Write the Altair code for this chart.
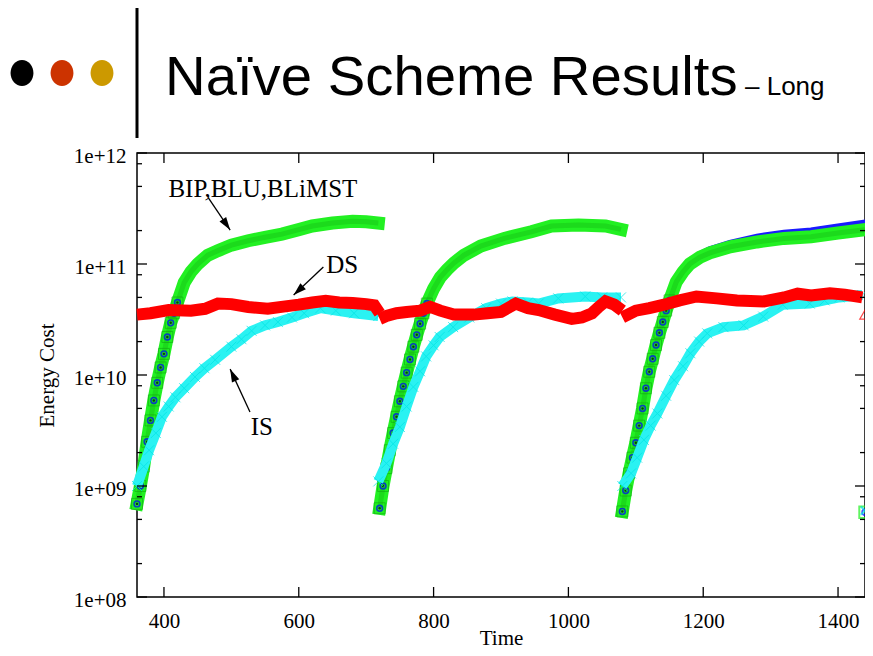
import altair as alt
import pandas as pd

# ---------------- values ----------------
BIP_T1 = [360, 365, 370, 375, 380, 385, 390, 395, 400, 405, 410, 415, 420, 430, 440, 450, 465, 480, 500, 525, 550, 575, 600, 620, 650, 680, 700, 718]
BIP_V1 = [6.9e8, 1.0e9, 1.5e9, 2.5e9, 3.9e9, 5.9e9, 8.5e9, 1.17e10, 1.55e10, 2.2e10, 2.95e10, 3.6e10, 4.5e10, 6.8e10, 8.5e10, 1.0e11, 1.2e11, 1.32e11, 1.48e11, 1.62e11, 1.74e11, 1.86e11, 2.04e11, 2.2e11, 2.34e11, 2.43e11, 2.4e11, 2.34e11]
BIP_T2 = [720, 725, 730, 735, 740, 745, 750, 755, 760, 765, 770, 775, 780, 785, 790, 800, 810, 820, 830, 845, 870, 905, 945, 975, 1015, 1055, 1078]
BIP_V2 = [6.3e8, 1.0e9, 1.45e9, 2.1e9, 3.0e9, 4.2e9, 5.8e9, 7.9e9, 1.05e10, 1.38e10, 1.8e10, 2.3e10, 2.9e10, 3.6e10, 4.4e10, 6.0e10, 7.6e10, 8.9e10, 1.02e11, 1.2e11, 1.45e11, 1.7e11, 1.95e11, 2.2e11, 2.25e11, 2.2e11, 2.05e11]
BIP_T3 = [1080, 1085, 1090, 1095, 1100, 1105, 1110, 1115, 1120, 1125, 1130, 1135, 1140, 1145, 1150, 1160, 1170, 1180, 1195, 1210, 1240, 1280, 1320, 1360, 1400, 1440]
BIP_V3 = [5.9e8, 9.1e8, 1.3e9, 1.8e9, 2.45e9, 3.5e9, 5.0e9, 7.6e9, 1.07e10, 1.4e10, 1.86e10, 2.4e10, 3.0e10, 3.8e10, 4.7e10, 6.9e10, 8.5e10, 1.0e11, 1.15e11, 1.26e11, 1.43e11, 1.58e11, 1.7e11, 1.76e11, 1.9e11, 2.04e11]
BLU_V3 = [5.9e8, 9.1e8, 1.3e9, 1.8e9, 2.45e9, 3.5e9, 5.0e9, 7.6e9, 1.07e10, 1.4e10, 1.86e10, 2.4e10, 3.0e10, 3.8e10, 4.7e10, 6.9e10, 8.5e10, 1.02e11, 1.2e11, 1.33e11, 1.52e11, 1.73e11, 1.87e11, 1.96e11, 2.13e11, 2.32e11]

DS_T1 = [360, 380, 407, 440, 461, 480, 500, 525, 554, 580, 600, 620, 640, 660, 680, 700, 712, 720]
DS_V1 = [3.5e10, 3.6e10, 3.85e10, 3.8e10, 3.95e10, 4.4e10, 4.35e10, 4.1e10, 3.95e10, 4.15e10, 4.3e10, 4.5e10, 4.65e10, 4.5e10, 4.45e10, 4.35e10, 4.25e10, 3.6e10]
DS_T2 = [720, 730, 745, 760, 780, 795, 810, 830, 860, 880, 900, 922, 940, 956, 980, 1005, 1020, 1035, 1045, 1055, 1068, 1080]
DS_V2 = [3.2e10, 3.4e10, 3.6e10, 3.7e10, 3.8e10, 4.1e10, 3.8e10, 3.5e10, 3.5e10, 3.6e10, 3.7e10, 4.4e10, 4.0e10, 3.85e10, 3.5e10, 3.2e10, 3.3e10, 3.6e10, 4.1e10, 4.6e10, 4.3e10, 3.8e10]
DS_T3 = [1080, 1100, 1120, 1142, 1165, 1190, 1220, 1250, 1290, 1320, 1340, 1360, 1388, 1410, 1436]
DS_V3 = [3.3e10, 3.8e10, 4.0e10, 4.3e10, 4.7e10, 5.1e10, 4.9e10, 4.7e10, 4.6e10, 5.0e10, 5.4e10, 5.2e10, 5.45e10, 5.3e10, 5.0e10]

IS_T1 = [360, 370, 378, 388, 397, 407, 417, 430, 446, 460, 476, 500, 515, 530, 550, 569, 590, 608, 632, 655, 682, 718]
IS_V1 = [1.0e9, 1.5e9, 2.1e9, 3.0e9, 4.2e9, 5.2e9, 6.3e9, 7.6e9, 9.6e9, 1.15e10, 1.37e10, 1.8e10, 2.1e10, 2.5e10, 2.8e10, 3.0e10, 3.3e10, 3.6e10, 4.0e10, 3.8e10, 3.6e10, 3.4e10]
IS_T2 = [718, 730, 740, 750, 760, 770, 780, 789, 800, 809, 829, 853, 878, 900, 917, 940, 956, 985, 1025, 1050, 1078]
IS_V2 = [1.1e9, 1.6e9, 2.4e9, 3.4e9, 5.2e9, 7.8e9, 1.08e10, 1.47e10, 1.85e10, 2.2e10, 2.7e10, 3.3e10, 4.0e10, 4.4e10, 4.6e10, 4.5e10, 4.4e10, 4.9e10, 5.1e10, 5.0e10, 5.0e10]
IS_T3 = [1080, 1093, 1102, 1112, 1122, 1132, 1145, 1157, 1170, 1181, 1194, 1206, 1230, 1260, 1289, 1318, 1358, 1380, 1402, 1436]
IS_V3 = [1.0e9, 1.3e9, 1.8e9, 2.6e9, 3.5e9, 4.5e9, 6.5e9, 9.0e9, 1.2e10, 1.57e10, 2.0e10, 2.37e10, 2.7e10, 2.8e10, 3.36e10, 4.3e10, 4.4e10, 4.7e10, 5.0e10, 5.25e10]

# first points of the next period, at the right edge
NEXT_T = [1440]
NEXT_BIP = [5.8e8]
NEXT_DS = [3.5e10]
NEXT_IS = [6.0e8]

X_TICKS = [400, 600, 800, 1000, 1200, 1400]
Y_MAJOR = [1e8, 1e9, 1e10, 1e11, 1e12]
Y_MINOR = [2e8, 5e8, 8e8, 2e9, 5e9, 8e9, 2e10, 5e10, 8e10, 2e11, 5e11, 8e11]

LABELS = ["BIP,BLU,BLiMST", "DS", "IS"]
LABEL_T = [546.8, 664.4, 545.3]
LABEL_V = [4.02e11, 8.3e10, 2.88e9]
ARROW_T1 = [465.9, 636.5, 527.6]
ARROW_V1 = [3.94e11, 9.4e10, 4.64e9]
ARROW_T2 = [498.2, 592.4, 498.2]
ARROW_V2 = [2.02e11, 5.26e10, 1.13e10]
HEAD_T = [492.8, 599.4, 502.2]
HEAD_V = [2.26e11, 5.75e10, 1.0e10]
HEAD_ANGLE = [145.5, 227, 335]

TITLE = "Naïve Scheme Results"
SUBTITLE = "– Long"
DOT_COLORS = ["#000000", "#cc3300", "#cc9900"]
X_TITLE = "Time"
Y_TITLE = "Energy Cost"

SERIF = "Liberation Serif"
SANS = "Liberation Sans"
W, H = 728, 444
PAD_L, PAD_T = 129, 145


def frame(ts, vs, cyc):
    return pd.DataFrame({"t": ts, "v": vs, "cycle": cyc})


bip = pd.concat([frame(BIP_T1, BIP_V1, 1), frame(BIP_T2, BIP_V2, 2), frame(BIP_T3, BIP_V3, 3)])
blu = pd.concat([frame(BIP_T1, BIP_V1, 1), frame(BIP_T2, BIP_V2, 2), frame(BIP_T3, BLU_V3, 3)])
ds = pd.concat([frame(DS_T1, DS_V1, 1), frame(DS_T2, DS_V2, 2), frame(DS_T3, DS_V3, 3)])
iss = pd.concat([frame(IS_T1, IS_V1, 1), frame(IS_T2, IS_V2, 2), frame(IS_T3, IS_V3, 3)])
nxt = pd.DataFrame({"t": NEXT_T, "bip": NEXT_BIP, "ds": NEXT_DS, "is": NEXT_IS})

xs = alt.Scale(domain=[360, 1440], nice=False, zero=False)
ys = alt.Scale(type="log", domain=[1e8, 1e12], nice=False)

x_axis = alt.Axis(values=X_TICKS, format="d", title=X_TITLE, labelFont=SERIF, labelFontSize=21,
                  titleFont=SERIF, titleFontSize=21, titleFontWeight="normal",
                  labelColor="black", titleColor="black", ticks=False, domain=False,
                  grid=False, labelPadding=13, titlePadding=-4, labelFlush=False,
                  labelOverlap=False)
y_axis = alt.Axis(values=Y_MAJOR,
                  labelExpr="'1e+' + (round(log(datum.value)/LN10) < 10 ? '0' : '') + round(log(datum.value)/LN10)",
                  title=Y_TITLE, labelFont=SERIF, labelFontSize=21, titleFont=SERIF,
                  titleFontSize=21, titleFontWeight="normal", labelColor="black",
                  titleColor="black", ticks=False, domain=False, grid=False,
                  labelPadding=11, titlePadding=16, labelOffset=3, labelOverlap=False)


def XF(f):
    return alt.X(f, scale=xs, axis=x_axis)


def YF(f):
    return alt.Y(f, scale=ys, axis=y_axis)


X = XF("t:Q")
Y = YF("v:Q")
D = alt.Detail("cycle:N")
CROSS = "M-1,-1L1,1M-1,1L1,-1"

layers = []

# blue (BLU) line under green, visible in the third period
layers.append(alt.Chart(blu).mark_line(color="#1a1aff", strokeWidth=8, strokeCap="square").encode(x=X, y=Y, detail=D))
# green (BIP)
layers.append(alt.Chart(bip).mark_line(color="#22f022", strokeWidth=13, strokeCap="square").encode(x=X, y=Y, detail=D))
layers.append(alt.Chart(bip).mark_line(color="#16c416", strokeWidth=5, opacity=0.5).encode(x=X, y=Y, detail=D))
rise = alt.datum.v < 5e10
layers.append(alt.Chart(bip).transform_filter(rise).mark_point(shape="square", filled=False, color="#11a011", size=120, strokeWidth=0.8).encode(x=X, y=Y))
layers.append(alt.Chart(blu).transform_filter(rise).mark_point(shape="circle", filled=False, color="#0000ff", size=34, strokeWidth=1.6).encode(x=X, y=Y))
layers.append(alt.Chart(bip).transform_filter(rise).mark_point(shape="circle", filled=True, color="#000000", size=6).encode(x=X, y=Y))
# cyan (IS)
layers.append(alt.Chart(iss).mark_line(color="#2af2f2", strokeWidth=10).encode(x=X, y=Y, detail=D))
layers.append(alt.Chart(iss).mark_point(shape=CROSS, filled=False, color="#00e5e5", size=100, strokeWidth=1).encode(x=X, y=Y))
# red (DS)
layers.append(alt.Chart(ds).mark_line(color="#ff0000", strokeWidth=12).encode(x=X, y=Y, detail=D))

# first points of the next period
layers.append(alt.Chart(nxt).mark_point(shape="square", filled=False, color="#1ff01f", size=130, strokeWidth=2).encode(x=X, y=YF("bip:Q")))
layers.append(alt.Chart(nxt).mark_point(shape="circle", filled=False, color="#0000ff", size=34, strokeWidth=1.6).encode(x=X, y=YF("bip:Q")))
layers.append(alt.Chart(nxt).mark_point(shape=CROSS, filled=False, color="#00e5e5", size=70).encode(x=X, y=YF("is:Q")))
layers.append(alt.Chart(nxt).mark_point(shape="triangle-up", filled=False, color="#ff0000", size=110, strokeWidth=1.2).encode(x=X, y=YF("ds:Q")))

# inward ticks
ymaj = pd.DataFrame({"v": Y_MAJOR})
ymin = pd.DataFrame({"v": Y_MINOR})
xt = pd.DataFrame({"t": X_TICKS})
for df, ln in ((ymaj, 10), (ymin, 5)):
    layers.append(alt.Chart(df).mark_rule(color="black", strokeWidth=1.3).encode(y=Y, x=alt.value(0), x2=alt.value(ln)))
    layers.append(alt.Chart(df).mark_rule(color="black", strokeWidth=1.3).encode(y=Y, x=alt.value(W), x2=alt.value(W - ln)))
layers.append(alt.Chart(xt).mark_rule(color="black", strokeWidth=1.3).encode(x=X, y=alt.value(H), y2=alt.value(H - 10)))
layers.append(alt.Chart(xt).mark_rule(color="black", strokeWidth=1.3).encode(x=X, y=alt.value(0), y2=alt.value(10)))

# annotations
ann = pd.DataFrame({"label": LABELS, "t": LABEL_T, "v": LABEL_V,
                    "t1": ARROW_T1, "v1": ARROW_V1, "t2": ARROW_T2, "v2": ARROW_V2,
                    "ht": HEAD_T, "hv": HEAD_V, "ang": HEAD_ANGLE})
layers.append(alt.Chart(ann).mark_rule(color="black", strokeWidth=1.3).encode(
    x=XF("t1:Q"), y=YF("v1:Q"), x2="t2:Q", y2="v2:Q"))
layers.append(alt.Chart(ann).mark_point(shape="M0,-1L0.62,1L-0.62,1Z", filled=True, color="black", size=169, opacity=1).encode(
    x=XF("ht:Q"), y=YF("hv:Q"), angle=alt.Angle("ang:Q", scale=None)))
layers.append(alt.Chart(ann).mark_text(font=SERIF, fontSize=25, align="center", baseline="alphabetic", color="black").encode(
    x=X, y=Y, text="label:N"))

# slide header (positions relative to the plot's top-left corner)
one = pd.DataFrame({"k": [0]})
layers.append(alt.Chart(one).mark_text(font=SANS, fontSize=56.3, align="left", baseline="alphabetic", color="black").encode(
    x=alt.value(165 - 8 - PAD_L), y=alt.value(95 - 8 - PAD_T), text=alt.value(TITLE)))
layers.append(alt.Chart(one).mark_text(font=SANS, fontSize=26, align="left", baseline="alphabetic", color="black").encode(
    x=alt.value(745 - 8 - PAD_L), y=alt.value(95 - 8 - PAD_T), text=alt.value(SUBTITLE)))
for i, c in enumerate(DOT_COLORS):
    layers.append(alt.Chart(one).mark_point(shape="M-0.88,0A0.88,1,0,1,0,0.88,0A0.88,1,0,1,0,-0.88,0Z", filled=True, color=c, size=676, opacity=1).encode(
        x=alt.value(22 + 40 * i - 8 - PAD_L), y=alt.value(73 - 8 - PAD_T)))
layers.append(alt.Chart(one).mark_rule(color="black", strokeWidth=3).encode(
    x=alt.value(137 - 8 - PAD_L), y=alt.value(8 - 8 - PAD_T), y2=alt.value(138 - 8 - PAD_T)))

chart = alt.layer(*layers).properties(
    width=W, height=H,
    padding={"left": PAD_L, "top": PAD_T, "right": 0, "bottom": 51},
    autosize=alt.AutoSizeParams(type="none"),
    background="white",
).configure_view(stroke="black", strokeWidth=1.5)

chart.save("out.html", embed_options={"renderer": "svg", "actions": False})
